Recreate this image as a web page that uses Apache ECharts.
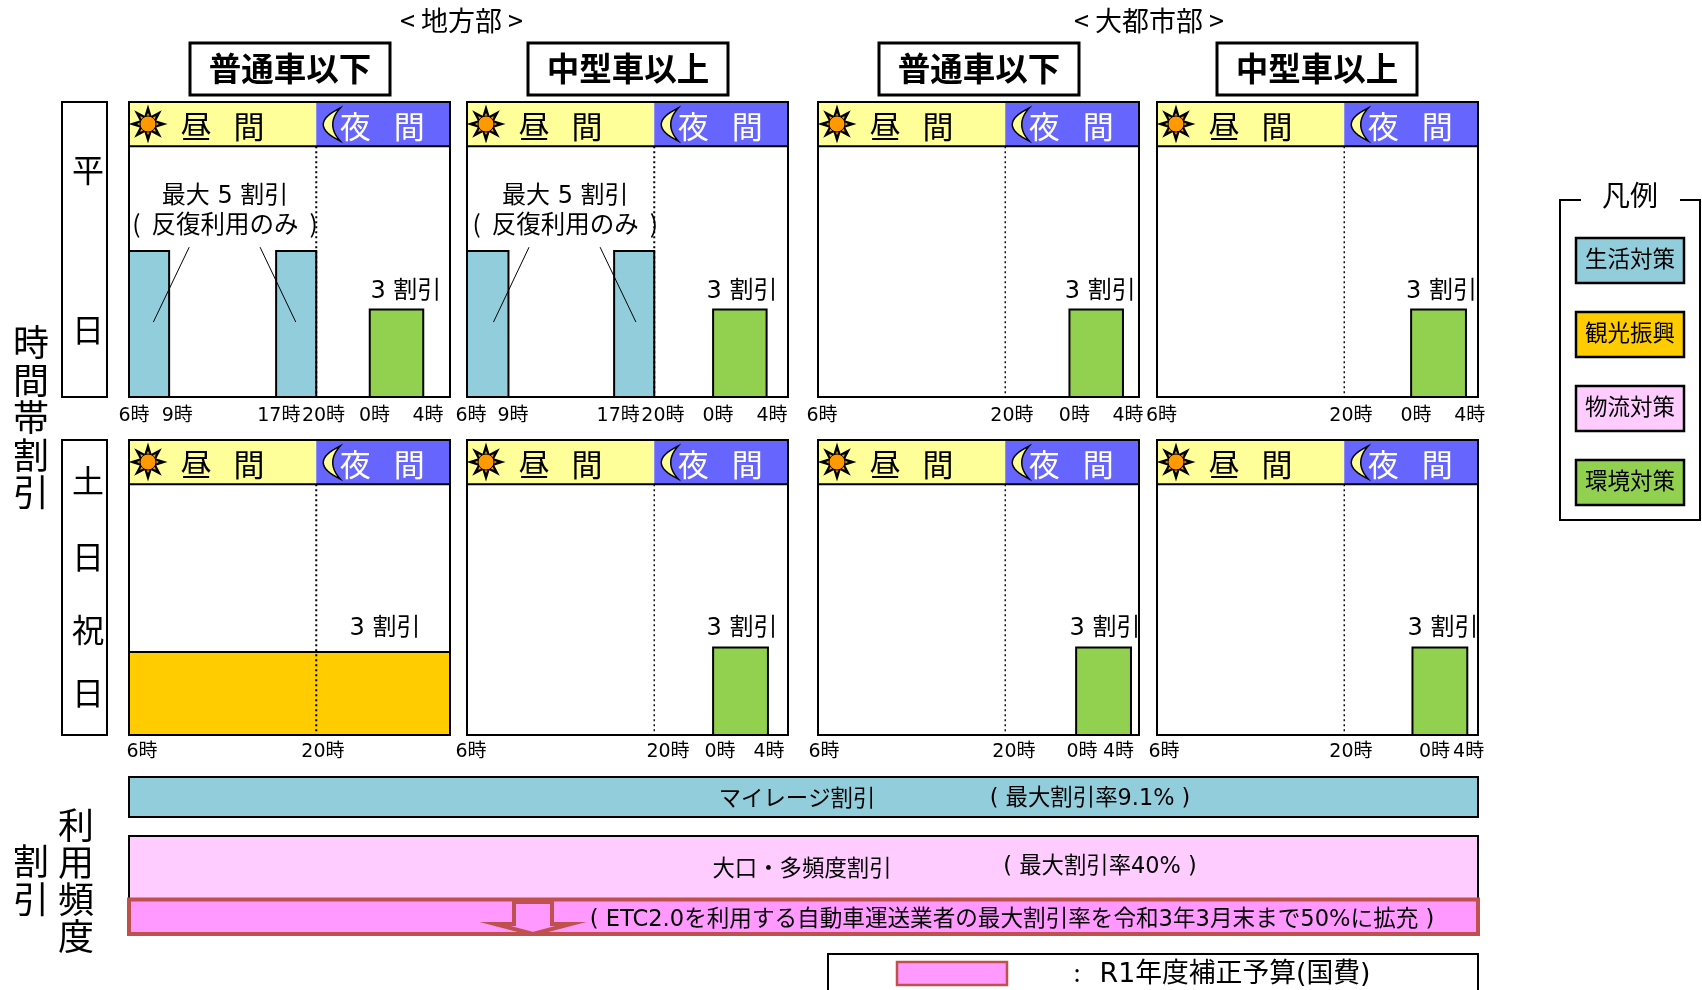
<!DOCTYPE html>
<html lang="ja">
<head>
<meta charset="utf-8">
<title>時間帯割引</title>
<script src="https://cdn.jsdelivr.net/npm/echarts@6/dist/echarts.min.js"></script>
<style>
  html, body { margin: 0; padding: 0; background: #fff; }
  #chart { width: 1702px; height: 990px; overflow: hidden; }
</style>
</head>
<body>
<div id="chart"></div>
<script>
  // bars: panel index, from hour, to hour (6 = 6時, 24 = 0時, 30 = next 6時), discount %
  var lifeBars = [[0, 6, 9, 50], [0, 17, 20, 50], [1, 6, 9.1, 50], [1, 17, 20, 50]]
  var tourismBars = [[4, 6, 30, 28.4]]
  var environmentBars = [[0, 24, 28, 30], [1, 24.4, 28.4, 30], [2, 24.8, 28.8, 30], [3, 25, 29.1, 30],
    [5, 24.4, 28.5, 30], [6, 25.3, 29.4, 30], [7, 25.1, 29.2, 30]]
  var dayBand = [6, 20]
  var nightBand = [20, 30]
  var headerRates = [85.85, 101]

  var vehicleNames = ['普通車以下', '中型車以上', '普通車以下', '中型車以上']
  var legendNames = ['生活対策', '観光振興', '物流対策', '環境対策']
  var fullTicks = ['6時', '9時', '17時', '20時', '0時', '4時']
  var shortTicks = ['6時', '20時', '0時', '4時']
  var panelTicks = [fullTicks, fullTicks, shortTicks, shortTicks, ['6時', '20時'], shortTicks, shortTicks, shortTicks]
  var rateNote = '3 割引'
  var maxNote = ['最大 5 割引', '(  反復利用のみ  )']
  var mileageTexts = ['マイレージ割引', '( 最大割引率9.1% )']
  var bulkTexts = ['大口・多頻度割引', '( 最大割引率40% )']
  var etcText = '( ETC2.0を利用する自動車運送業者の最大割引率を令和3年3月末まで50%に拡充 )'
  var budgetText = 'R1年度補正予算(国費)'

  // layout
  var FONT = '"DejaVu Sans", "Noto Sans CJK JP", sans-serif'
  var CJK_FONT = '"Noto Sans CJK JP", "Noto Sans", sans-serif'
  var panelLefts = [129, 467, 818, 1157, 129, 467, 818, 1157]
  var panelTops = [102, 102, 102, 102, 440, 440, 440, 440]
  var panelWidth = 321
  var panelHeight = 295
  var tickLabelAt = [
    [6.37, 9.61, 17.2, 20.54, 24.36, 28.36],
    [6.3, 9.44, 17.3, 20.65, 24.77, 28.8],
    [6.3, 20.5, 25.17, 29.18],
    [6.34, 20.5, 25.36, 29.38],
    [6.97, 20.5],
    [6.3, 21.03, 24.92, 28.58],
    [6.45, 20.65, 25.74, 28.47],
    [6.52, 20.5, 26.75, 29.3]
  ]
  var rateNoteAt = [[0, 26.7, 36.8], [1, 26.56, 36.8], [2, 27.1, 36.8], [3, 27.27, 36.8],
    [4, 25.14, 37.1], [5, 26.56, 37.1], [6, 27.46, 37.1], [7, 27.38, 37.1]]
  var maxNoteAt = [[0, 13.18], [1, 13.35]]
  var leaderLines = [[0, 10.5, 51.3, 7.82, 25.65], [0, 15.8, 51.3, 18.47, 25.65],
    [1, 10.64, 51.3, 7.98, 25.65], [1, 15.95, 51.3, 18.63, 25.65]]

  var colors = { life: '#92CDDC', tourism: '#FFCC00', logistics: '#FFCCFF', environment: '#92D050',
    day: '#FFFF99', night: '#6666FF', budget: '#FF99FF', budgetLine: '#C0504D' }

  function text (str, x, y, size, extra) {
    // latin text goes through DejaVu, whose box sits a little higher than the CJK font's
    var latin = /[0-9A-Za-z]/.test(str)
    var style = { text: str, fill: (extra && extra.fill) || '#000', align: 'center', verticalAlign: 'middle',
      font: ((extra && extra.weight) || 'normal') + ' ' + size + 'px ' + (latin ? FONT : CJK_FONT) }
    return { type: 'text', x: x, y: latin ? y + 2.5 : y, z: 20, style: style, silent: true }
  }

  function box (x, y, w, h, fill, line, lineWidth) {
    return { type: 'rect', shape: { x: x, y: y, width: w, height: h }, z: 10, silent: true,
      style: { fill: fill, stroke: line, lineWidth: lineWidth } }
  }

  function sunPoints (cx, cy, outer, inner) {
    var pts = []
    for (var i = 0; i < 16; i++) {
      var r = i % 2 === 0 ? outer : inner
      var a = i * Math.PI / 8
      pts.push([cx + r * Math.sin(a), cy - r * Math.cos(a)])
    }
    return pts
  }

  function moonPoints (tipX, top, bottom, outerCtrl, innerCtrl) {
    var pts = []
    var i, t, mt
    for (i = 0; i <= 16; i++) {
      t = i / 16
      mt = 1 - t
      pts.push([mt * mt * tipX + 2 * mt * t * outerCtrl + t * t * tipX, mt * mt * top + 2 * mt * t * (top + bottom) / 2 + t * t * bottom])
    }
    for (i = 16; i >= 0; i--) {
      t = i / 16
      mt = 1 - t
      pts.push([mt * mt * tipX + 2 * mt * t * innerCtrl + t * t * tipX, mt * mt * top + 2 * mt * t * (top + bottom) / 2 + t * t * bottom])
    }
    return pts
  }

  function barSeries (rows, color, panel) {
    var data = rows.filter(function (r) { return r[0] === panel }).map(function (r) { return [r[1], r[2], r[3]] })
    return {
      type: 'custom',
      xAxisIndex: panel,
      yAxisIndex: panel,
      z: 3,
      silent: true,
      data: data,
      renderItem: function (params, api) {
        var a = api.coord([api.value(0), api.value(2)])
        var b = api.coord([api.value(1), 0])
        return { type: 'rect', shape: { x: a[0], y: a[1], width: b[0] - a[0], height: b[1] - a[1] },
          style: { fill: color, stroke: '#000', lineWidth: 2 } }
      }
    }
  }

  function headerSeries (panel) {
    return {
      type: 'custom',
      xAxisIndex: panel,
      yAxisIndex: panel,
      z: 2,
      silent: true,
      data: [[dayBand[0], dayBand[1], nightBand[1]]],
      renderItem: function (params, api) {
        var d = api.coord([api.value(0), headerRates[1]])
        var m = api.coord([api.value(1), headerRates[0]])
        var e = api.coord([api.value(2), headerRates[0]])
        var cy = d[1] + 22
        var sunX = d[0] + 19
        return { type: 'group', children: [
          { type: 'rect', shape: { x: d[0], y: d[1], width: m[0] - d[0], height: m[1] - d[1] }, style: { fill: colors.day } },
          { type: 'rect', shape: { x: m[0], y: d[1], width: e[0] - m[0], height: m[1] - d[1] }, style: { fill: colors.night } },
          { type: 'polygon', shape: { points: sunPoints(sunX, cy, 19.5, 9) }, style: { fill: '#000' } },
          { type: 'polygon', shape: { points: sunPoints(sunX, cy, 11, 6.5) }, style: { fill: '#FF9900' } },
          { type: 'circle', shape: { cx: sunX, cy: cy, r: 8 }, style: { fill: '#FF9900', stroke: '#000', lineWidth: 1 } },
          { type: 'polygon', shape: { points: moonPoints(m[0] + 24, d[1] + 6, d[1] + 39, m[0] - 10, m[0] + 9) },
            style: { fill: colors.day, stroke: '#000', lineWidth: 1.5 } },
          text('昼', d[0] + 67, cy + 2, 31),
          text('間', d[0] + 120, cy + 2, 31),
          text('夜', m[0] + 39, cy + 2, 31, { fill: '#fff' }),
          text('間', m[0] + 93, cy + 2, 31, { fill: '#fff' })
        ] }
      }
    }
  }

  function dividerSeries (panel) {
    return {
      type: 'custom',
      xAxisIndex: panel,
      yAxisIndex: panel,
      z: 4,
      silent: true,
      data: [[dayBand[1]]],
      renderItem: function (params, api) {
        var a = api.coord([api.value(0), headerRates[0]])
        var b = api.coord([api.value(0), 0])
        var thick = panel === 0 || panel === 1 || panel === 4
        return { type: 'line', shape: { x1: a[0], y1: a[1], x2: b[0], y2: b[1] },
          style: { stroke: '#000', lineWidth: thick ? 2 : 1.4, lineDash: [2, 3] } }
      }
    }
  }

  function frameSeries (panel) {
    return {
      type: 'custom',
      xAxisIndex: panel,
      yAxisIndex: panel,
      z: 5,
      silent: true,
      data: [[6, 30, headerRates[0], headerRates[1]]],
      renderItem: function (params, api) {
        var a = api.coord([api.value(0), api.value(3)])
        var b = api.coord([api.value(1), 0])
        var c = api.coord([api.value(0), api.value(2)])
        return { type: 'group', children: [
          { type: 'rect', shape: { x: a[0], y: a[1], width: b[0] - a[0], height: b[1] - a[1] },
            style: { fill: 'none', stroke: '#000', lineWidth: 2 } },
          { type: 'line', shape: { x1: a[0], y1: c[1], x2: b[0], y2: c[1] }, style: { stroke: '#000', lineWidth: 2 } }
        ] }
      }
    }
  }

  function noteSeries (panel) {
    var notes = rateNoteAt.filter(function (r) { return r[0] === panel })
    var tops = maxNoteAt.filter(function (r) { return r[0] === panel })
    var leaders = leaderLines.filter(function (r) { return r[0] === panel })
    return {
      type: 'custom',
      xAxisIndex: panel,
      yAxisIndex: panel,
      z: 6,
      silent: true,
      data: [[6, 0]],
      renderItem: function (params, api) {
        var kids = []
        notes.forEach(function (n) {
          var p = api.coord([n[1], n[2]])
          kids.push(text(rateNote, p[0], p[1], 24))
        })
        tops.forEach(function (n) {
          var p = api.coord([n[1], 69.5])
          var q = api.coord([n[1], 59.2])
          kids.push(text(maxNote[0], p[0], p[1], 24))
          kids.push(text(maxNote[1], q[0], q[1], 24.5))
        })
        leaders.forEach(function (n) {
          var p = api.coord([n[1], n[2]])
          var q = api.coord([n[3], n[4]])
          kids.push({ type: 'line', shape: { x1: p[0], y1: p[1], x2: q[0], y2: q[1] }, style: { stroke: '#000', lineWidth: 1 } })
        })
        return { type: 'group', children: kids }
      }
    }
  }

  var grids = []
  var xAxes = []
  var yAxes = []
  var series = []
  panelLefts.forEach(function (left, i) {
    grids.push({ left: left, top: panelTops[i], width: panelWidth, height: panelHeight })
    xAxes.push({
      gridIndex: i,
      type: 'value',
      min: 6,
      max: 30,
      axisLine: { show: false },
      axisTick: { show: false },
      splitLine: { show: false },
      axisLabel: {
        show: true,
        customValues: tickLabelAt[i],
        margin: i < 4 ? 10 : 8,
        fontSize: 19,
        fontFamily: FONT,
        color: '#000',
        formatter: function (v) { return panelTicks[i][tickLabelAt[i].indexOf(v)] }
      }
    })
    yAxes.push({ gridIndex: i, type: 'value', min: 0, max: headerRates[1], show: false })
    series.push(headerSeries(i))
    series.push(barSeries(lifeBars, colors.life, i))
    series.push(barSeries(tourismBars, colors.tourism, i))
    series.push(barSeries(environmentBars, colors.environment, i))
    series.push(dividerSeries(i))
    series.push(frameSeries(i))
    series.push(noteSeries(i))
  })

  // frequency discount strips, in their own grid
  var stripGrid = panelLefts.length
  var freqRows = [[0, 40, colors.life], [59, 122, colors.logistics]]
  var etcRow = [122.5, 157]
  grids.push({ left: 129, top: 777, width: 1349, height: 158 })
  xAxes.push({ gridIndex: stripGrid, type: 'value', min: 0, max: 1349, show: false })
  yAxes.push({ gridIndex: stripGrid, type: 'value', min: 0, max: 158, inverse: true, show: false })
  series.push({
    type: 'custom',
    xAxisIndex: stripGrid,
    yAxisIndex: stripGrid,
    silent: true,
    z: 2,
    data: freqRows.map(function (r) { return [0, 1349, r[0], r[1]] }),
    renderItem: function (params, api) {
      var a = api.coord([api.value(0), api.value(2)])
      var b = api.coord([api.value(1), api.value(3)])
      return { type: 'rect', shape: { x: a[0], y: a[1], width: b[0] - a[0], height: b[1] - a[1] },
        style: { fill: freqRows[params.dataIndex][2], stroke: '#000', lineWidth: 2 } }
    }
  })
  series.push({
    type: 'custom',
    xAxisIndex: stripGrid,
    yAxisIndex: stripGrid,
    silent: true,
    z: 3,
    data: [[0, 1349, etcRow[0], etcRow[1]]],
    renderItem: function (params, api) {
      var a = api.coord([api.value(0), api.value(2)])
      var b = api.coord([api.value(1), api.value(3)])
      return { type: 'rect', shape: { x: a[0], y: a[1], width: b[0] - a[0], height: b[1] - a[1] },
        style: { fill: colors.budget, stroke: colors.budgetLine, lineWidth: 4 } }
    }
  })

  var shapes = []
  function column (chars, x, ys, size) {
    chars.split('').forEach(function (ch, i) { shapes.push(text(ch, x, ys[i], size)) })
  }

  shapes.push(text('< 地方部 >', 461.5, 21, 27))
  shapes.push(text('< 大都市部 >', 1149, 21, 27))
  var vehicleLefts = [190, 528, 879, 1217]
  vehicleNames.forEach(function (name, i) {
    shapes.push(box(vehicleLefts[i], 43, 200, 52, '#fff', '#000', 3))
    shapes.push(text(name, vehicleLefts[i] + 100, 68.5, 32.5, { weight: 'bold' }))
  })

  shapes.push(box(62, 102, 45, 295, '#fff', '#000', 2))
  shapes.push(box(62, 440, 45, 295, '#fff', '#000', 2))
  column('平日', 88, [170, 330], 32)
  column('土日祝日', 88, [481, 557, 630, 693], 32)
  column('時間帯割引', 31, [342.5, 380, 417.5, 455, 492.5], 36)
  column('利用頻度', 76, [825, 862.5, 899, 936], 36)
  column('割引', 31, [861.7, 899], 36)

  // legend panel, top edge broken by the title
  shapes.push({ type: 'polyline', z: 10, silent: true, shape: { points: [[1581, 200], [1560, 200], [1560, 520], [1700, 520], [1700, 200], [1680, 200]] },
    style: { fill: 'none', stroke: '#000', lineWidth: 2 } })
  shapes.push(text('凡例', 1630, 195, 28))
  var legendTops = [238, 312, 386, 460]
  var legendFills = [colors.life, colors.tourism, colors.logistics, colors.environment]
  legendNames.forEach(function (name, i) {
    shapes.push(box(1576, legendTops[i], 108, 45, legendFills[i], '#000', 2.5))
    shapes.push(text(name, 1630, legendTops[i] + 20, 22.5))
  })

  shapes.push(text(mileageTexts[0], 797, 797, 22.4))
  shapes.push(text(mileageTexts[1], 1090, 797, 22.4))
  shapes.push(text(bulkTexts[0], 802, 867, 22.4))
  shapes.push(text(bulkTexts[1], 1100, 865, 22.4))
  shapes.push(text(etcText, 1012, 918, 22.6))
  shapes.push({ type: 'polygon', z: 15, silent: true,
    shape: { points: [[514, 902], [552, 902], [552, 924], [571, 924], [533, 934], [495, 924], [514, 924]] },
    style: { fill: colors.budget, stroke: colors.budgetLine, lineWidth: 4 } })

  shapes.push(box(828, 954, 650, 50, '#fff', '#000', 2))
  shapes.push(box(897, 962, 110, 23, colors.budget, colors.budgetLine, 2.5))
  shapes.push(text(':', 1077, 973, 24))
  shapes.push(text(budgetText, 1235, 973, 26.8))

  var chart = echarts.init(document.getElementById('chart'), null, { renderer: 'canvas' })
  chart.setOption({
    animation: false,
    backgroundColor: '#fff',
    tooltip: { show: false },
    grid: grids,
    xAxis: xAxes,
    yAxis: yAxes,
    series: series,
    graphic: { elements: shapes }
  })
</script>
</body>
</html>
